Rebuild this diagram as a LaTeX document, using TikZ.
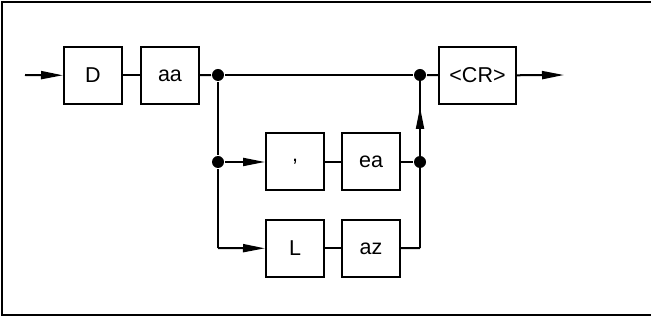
\documentclass[tikz,border=0pt]{standalone}
\usepackage{fontspec}
\setmainfont{Liberation Sans}
\usetikzlibrary{arrows.meta}

\begin{document}
\begin{tikzpicture}[x=1pt, y=-1pt, line width=2pt, font=\fontsize{21.5}{25}\selectfont,
    >={Triangle[length=22pt, width=8pt]},
    box/.style={draw, minimum width=58pt, minimum height=57pt, inner sep=0pt},
    dot/.style={circle, fill, inner sep=0pt, minimum size=12pt}]
    \useasboundingbox (0, 0) rectangle (651, 320);
    \draw[line width=2.5pt] (652, 2) -- (2, 2) -- (2, 315) -- (652, 315);

    % top row
    \coordinate (in) at (25, 75);
    \node[box] (d) at (93, 75.5) {D};
    \node[box] (aa) at (170, 75.5) {aa};
    \node[dot] (j1) at (218, 75) {};
    \node[dot] (j2) at (420, 75) {};
    \node[box, minimum width=77pt] (cr) at (477.5, 75.5) {<CR>};
    \coordinate (out) at (564, 75);

    % middle row
    \node[dot] (j3) at (218, 162) {};
    \node[box] (comma) at (295, 162) {,};
    \node[box] (ea) at (371, 162) {ea};
    \node[dot] (j4) at (420, 162) {};

    % bottom row
    \coordinate (j5) at (218, 248);
    \node[box] (l) at (295, 248.5) {L};
    \node[box] (az) at (371, 248.5) {az};
    \coordinate (j6) at (420, 248);
    \coordinate (tip) at (420, 107);

    \draw[->] (in) -- (d);
    \draw (d) -- (aa);
    \draw (aa) -- (j1);
    \draw (j1) -- (j2);
    \draw (j2) -- (cr);
    \draw[->] (cr) -- (out);

    \draw (j1) -- (j3);
    \draw[->] (j3) -- (comma);
    \draw (comma) -- (ea);
    \draw (ea) -- (j4);

    \draw (j3) -- (j5);
    \draw[->] (j5) -- (l);
    \draw (l) -- (az);
    \draw (az) -- (j6);
    \draw (j6) -- (j2.center);
    \draw[->] (j4) -- (tip);
\end{tikzpicture}
\end{document}
